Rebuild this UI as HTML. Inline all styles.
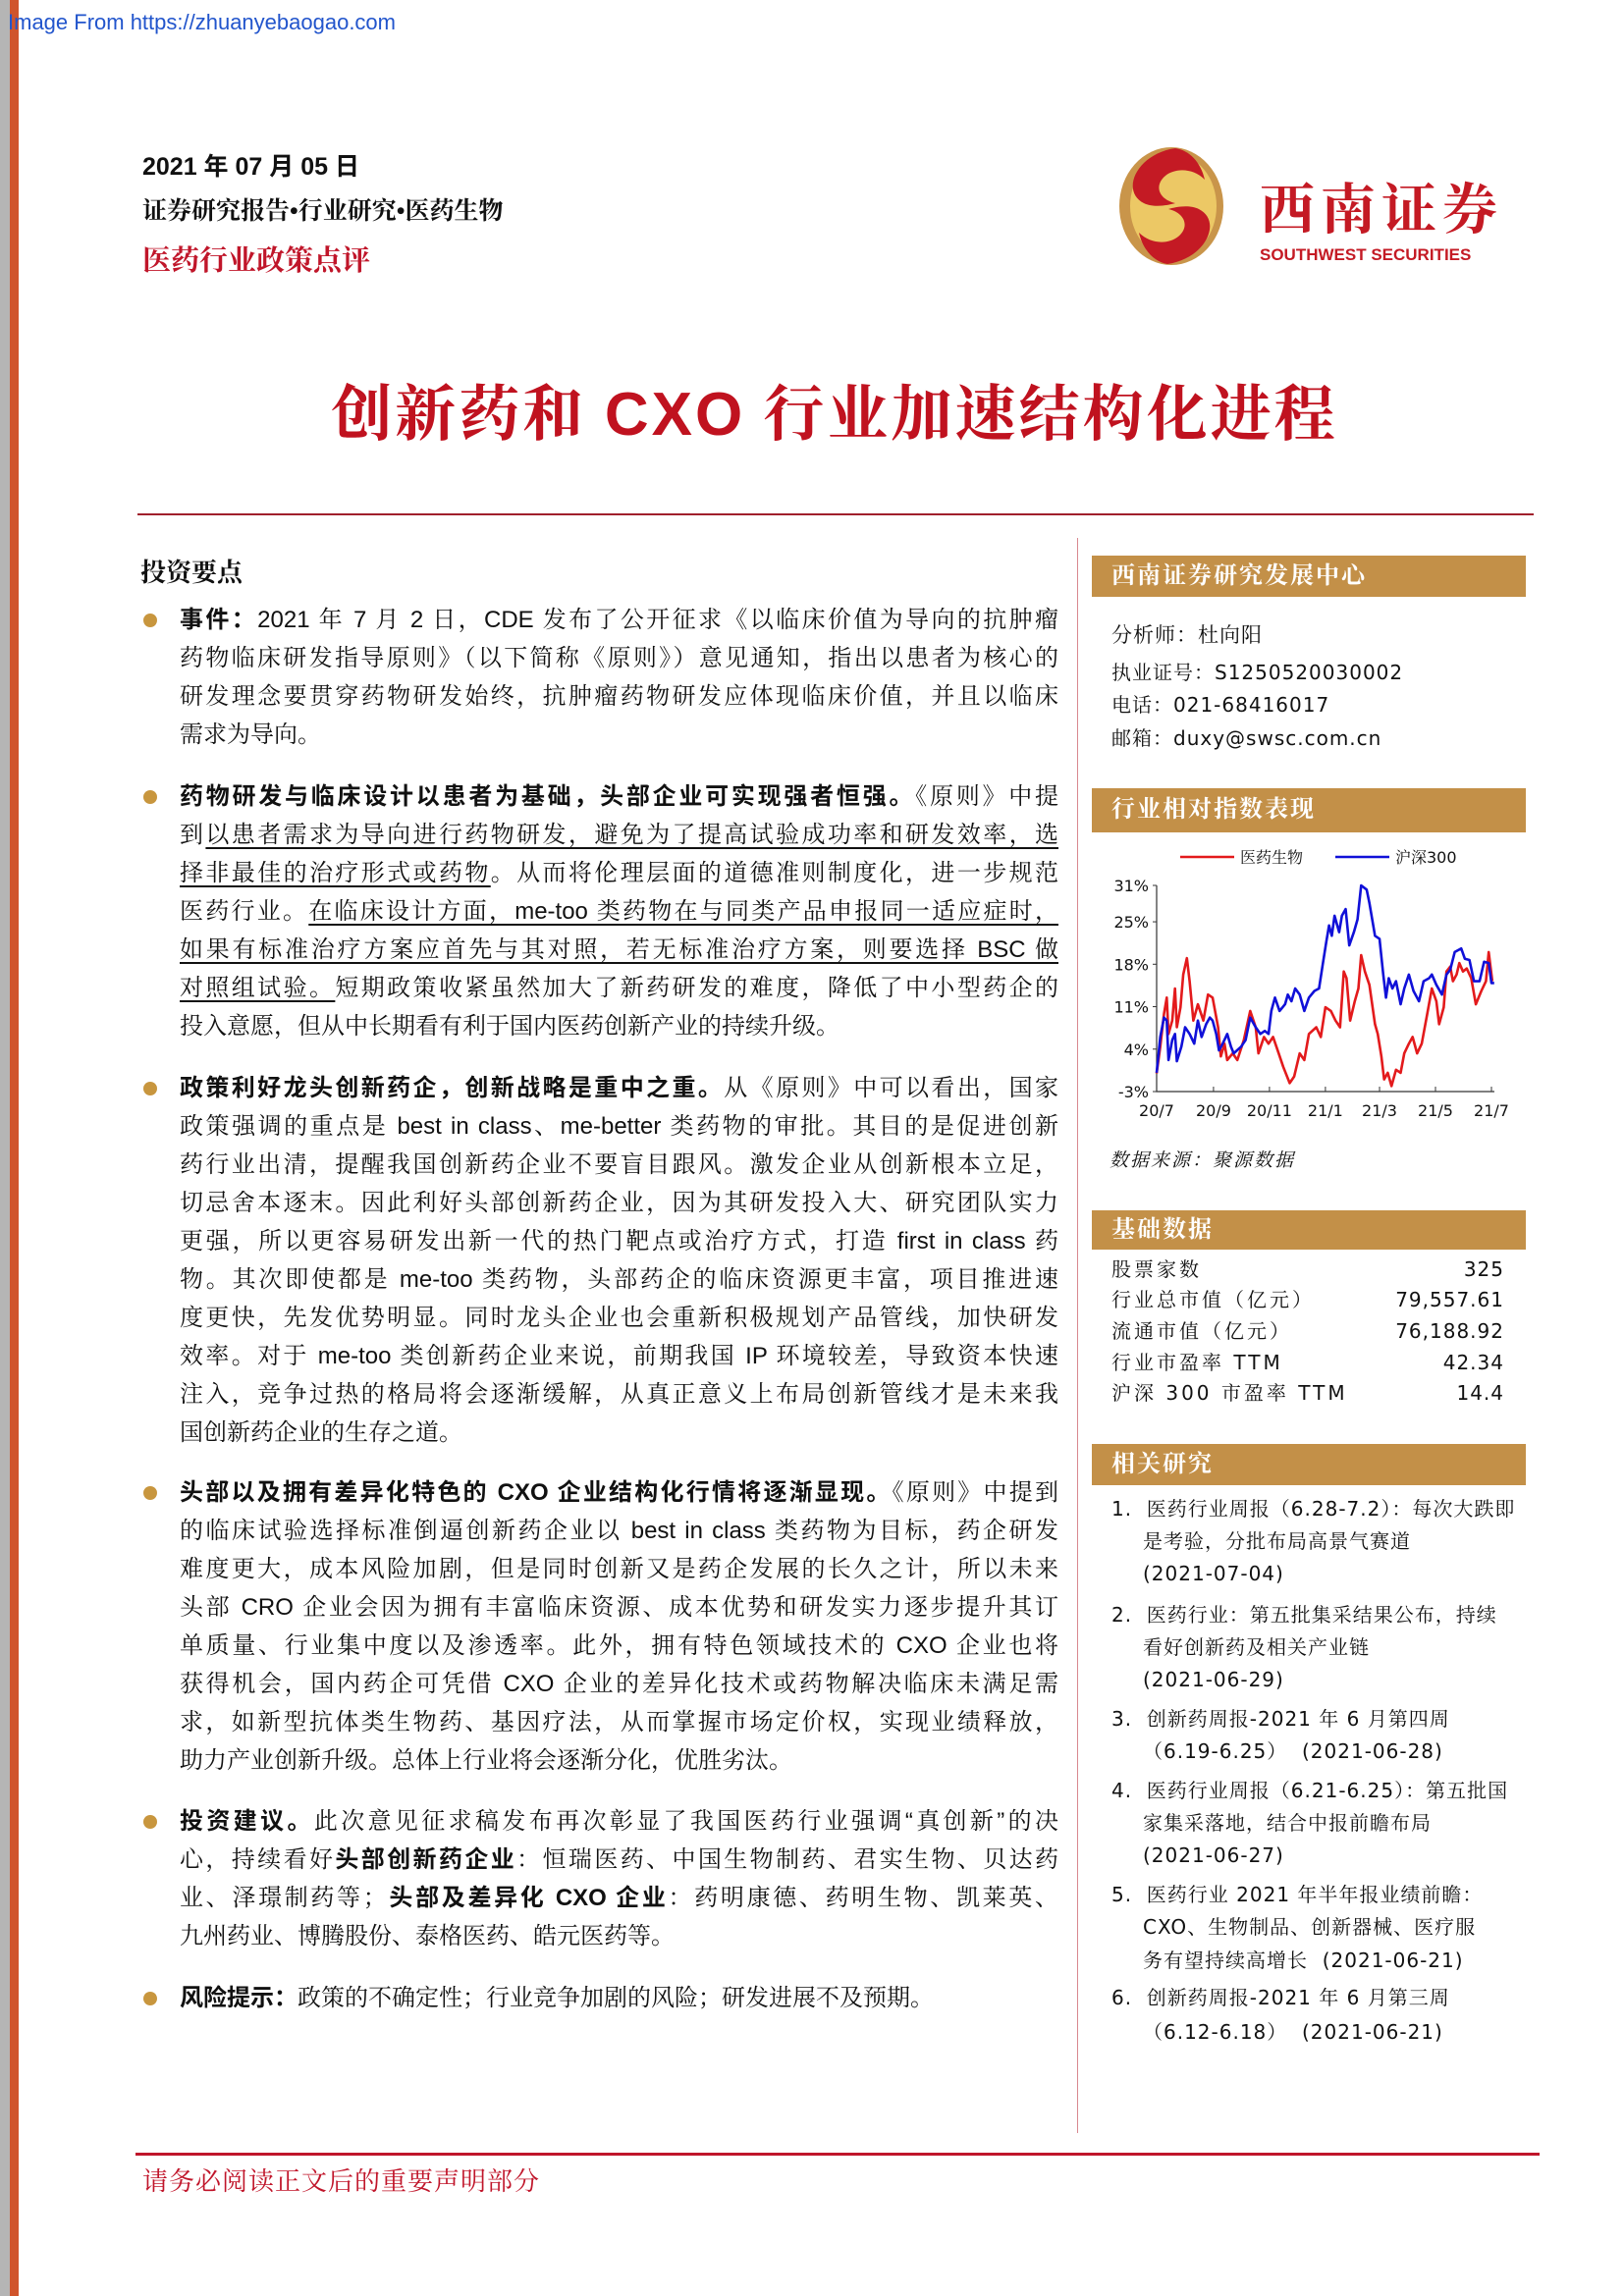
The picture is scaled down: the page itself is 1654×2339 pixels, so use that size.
<!DOCTYPE html>
<html><head><meta charset="utf-8">
<style>
*{margin:0;padding:0;box-sizing:border-box}
body{width:1654px;height:2339px;position:relative;background:#fff;overflow:hidden;font-family:"Liberation Serif","Noto Serif CJK SC",serif;color:#111}
.abs{position:absolute}
.para{position:absolute;left:183px;width:895px;font-size:24px;line-height:39px;font-family:"Liberation Sans","Noto Serif CJK SC",serif}
.para .ln{text-align:justify;text-align-last:justify;white-space:nowrap;height:39px}
.para .ln.last{text-align-last:left}
.para b{font-weight:700;font-family:"Liberation Sans","Noto Sans CJK SC",sans-serif}
.para u{text-decoration:underline;text-underline-offset:5px}
.dot{position:absolute;left:146px;width:14px;height:14px;border-radius:50%;background:#c8963e}
.hbar{position:absolute;left:1112px;width:442px;background:#c39048;color:#fff;font-weight:700;font-size:24px;padding-left:20px;letter-spacing:2px}
.rt{position:absolute;font-family:"DejaVu Sans","Noto Serif CJK SC",sans-serif;font-size:20px;letter-spacing:1px;white-space:nowrap;line-height:30px}
</style></head>
<body>
<div class="abs" style="left:0;top:0;width:10px;height:2339px;background:#b5b5b5"></div>
<div class="abs" style="left:10px;top:0;width:9px;height:2339px;background:#d0542c"></div>
<div class="abs" style="left:8px;top:10px;font-family:'Liberation Sans',sans-serif;font-size:22px;color:#2255cc">Image From https://zhuanyebaogao.com</div>

<div class="abs" style="left:145px;top:150px;font-size:25px;font-weight:700;font-family:'Liberation Sans','Noto Sans CJK SC',sans-serif">2021 年 07 月 05 日</div>
<div class="abs" style="left:145px;top:195px;font-size:25px;font-weight:700">证券研究报告•行业研究•医药生物</div>
<div class="abs" style="left:145px;top:243px;font-size:29px;font-weight:700;color:#c0162a">医药行业政策点评</div>

<svg class="abs" style="left:1135px;top:145px" width="420" height="130" viewBox="0 0 420 130">
 <ellipse cx="58" cy="65" rx="53" ry="60" fill="#c9954a"/>
 <ellipse cx="60" cy="65" rx="44" ry="53" fill="#ecc865"/>
 <path d="M62 6 C22 12 6 50 30 62 C40 67 55 64 62 62 C45 58 40 44 52 34 C62 26 80 26 92 38 C88 20 76 8 62 6Z" fill="#c41a24"/>
 <path d="M54 124 C94 118 110 80 86 68 C76 63 62 66 55 68 C72 72 77 86 65 96 C55 104 37 104 25 92 C29 110 41 122 54 124Z" fill="#c41a24"/>
 <text x="148" y="88" font-size="56" font-weight="700" fill="#c41a24" font-family="'Noto Serif CJK SC',serif" letter-spacing="6">西南证券</text>
 <text x="148" y="120" font-size="17" font-weight="700" fill="#c41a24" font-family="'Liberation Sans',sans-serif">SOUTHWEST SECURITIES</text>
</svg>

<div class="abs" style="left:0;width:1700px;top:372px;text-align:center;font-size:62px;color:#c0121f;font-weight:700;letter-spacing:3px">创新药和 <span style="font-family:'Liberation Sans',sans-serif">CXO</span> 行业加速结构化进程</div>
<div class="abs" style="left:140px;top:523px;width:1422px;height:2px;background:#a0202c"></div>
<div class="abs" style="left:1097px;top:548px;width:1px;height:1625px;background:#d88890"></div>

<div class="abs" style="left:143px;top:563px;font-size:26px;font-weight:700">投资要点</div>

<div class="dot" style="top:625px"></div>
<div class="para" style="top:612px">
<div class="ln"><b>事件：</b>2021 年 7 月 2 日，CDE 发布了公开征求《以临床价值为导向的抗肿瘤</div>
<div class="ln">药物临床研发指导原则》（以下简称《原则》）意见通知，指出以患者为核心的</div>
<div class="ln">研发理念要贯穿药物研发始终，抗肿瘤药物研发应体现临床价值，并且以临床</div>
<div class="ln last">需求为导向。</div></div>

<div class="dot" style="top:805px"></div>
<div class="para" style="top:792px">
<div class="ln"><b>药物研发与临床设计以患者为基础，头部企业可实现强者恒强。</b>《原则》中提</div>
<div class="ln">到<u>以患者需求为导向进行药物研发，避免为了提高试验成功率和研发效率，选</u></div>
<div class="ln"><u>择非最佳的治疗形式或药物</u>。从而将伦理层面的道德准则制度化，进一步规范</div>
<div class="ln">医药行业。<u>在临床设计方面，me-too 类药物在与同类产品申报同一适应症时，</u></div>
<div class="ln"><u>如果有标准治疗方案应首先与其对照，若无标准治疗方案，则要选择 BSC 做</u></div>
<div class="ln"><u>对照组试验。</u>短期政策收紧虽然加大了新药研发的难度，降低了中小型药企的</div>
<div class="ln last">投入意愿，但从中长期看有利于国内医药创新产业的持续升级。</div></div>

<div class="dot" style="top:1102px"></div>
<div class="para" style="top:1089px">
<div class="ln"><b>政策利好龙头创新药企，创新战略是重中之重。</b>从《原则》中可以看出，国家</div>
<div class="ln">政策强调的重点是 best in class、me-better 类药物的审批。其目的是促进创新</div>
<div class="ln">药行业出清，提醒我国创新药企业不要盲目跟风。激发企业从创新根本立足，</div>
<div class="ln">切忌舍本逐末。因此利好头部创新药企业，因为其研发投入大、研究团队实力</div>
<div class="ln">更强，所以更容易研发出新一代的热门靶点或治疗方式，打造 first in class 药</div>
<div class="ln">物。其次即使都是 me-too 类药物，头部药企的临床资源更丰富，项目推进速</div>
<div class="ln">度更快，先发优势明显。同时龙头企业也会重新积极规划产品管线，加快研发</div>
<div class="ln">效率。对于 me-too 类创新药企业来说，前期我国 IP 环境较差，导致资本快速</div>
<div class="ln">注入，竞争过热的格局将会逐渐缓解，从真正意义上布局创新管线才是未来我</div>
<div class="ln last">国创新药企业的生存之道。</div></div>

<div class="dot" style="top:1514px"></div>
<div class="para" style="top:1501px">
<div class="ln"><b>头部以及拥有差异化特色的 CXO 企业结构化行情将逐渐显现。</b>《原则》中提到</div>
<div class="ln">的临床试验选择标准倒逼创新药企业以 best in class 类药物为目标，药企研发</div>
<div class="ln">难度更大，成本风险加剧，但是同时创新又是药企发展的长久之计，所以未来</div>
<div class="ln">头部 CRO 企业会因为拥有丰富临床资源、成本优势和研发实力逐步提升其订</div>
<div class="ln">单质量、行业集中度以及渗透率。此外，拥有特色领域技术的 CXO 企业也将</div>
<div class="ln">获得机会，国内药企可凭借 CXO 企业的差异化技术或药物解决临床未满足需</div>
<div class="ln">求，如新型抗体类生物药、基因疗法，从而掌握市场定价权，实现业绩释放，</div>
<div class="ln last">助力产业创新升级。总体上行业将会逐渐分化，优胜劣汰。</div></div>

<div class="dot" style="top:1849px"></div>
<div class="para" style="top:1836px">
<div class="ln"><b>投资建议。</b>此次意见征求稿发布再次彰显了我国医药行业强调“真创新”的决</div>
<div class="ln">心，持续看好<b>头部创新药企业</b>：恒瑞医药、中国生物制药、君实生物、贝达药</div>
<div class="ln">业、泽璟制药等；<b>头部及差异化 CXO 企业</b>：药明康德、药明生物、凯莱英、</div>
<div class="ln last">九州药业、博腾股份、泰格医药、皓元医药等。</div></div>

<div class="dot" style="top:2029px"></div>
<div class="para" style="top:2016px">
<div class="ln last"><b>风险提示：</b>政策的不确定性；行业竞争加剧的风险；研发进展不及预期。</div></div>

<!-- right column -->
<div class="hbar" style="top:566px;height:42px;line-height:42px">西南证券研究发展中心</div>
<div class="rt" style="left:1132px;top:632px;font-size:21px">分析师：杜向阳</div>
<div class="rt" style="left:1132px;top:670px">执业证号：S1250520030002</div>
<div class="rt" style="left:1132px;top:703px">电话：021-68416017</div>
<div class="rt" style="left:1132px;top:737px">邮箱：duxy@swsc.com.cn</div>

<div class="hbar" style="top:803px;height:45px;line-height:45px">行业相对指数表现</div>
<svg id="chart" class="abs" style="left:1110px;top:850px" width="450" height="310"></svg>
<div class="abs" style="left:1130px;top:1167px;font-size:19px;font-style:italic;letter-spacing:2px">数据来源：聚源数据</div>

<div class="hbar" style="top:1233px;height:40px;line-height:40px">基础数据</div>
<div>
<div class="rt" style="left:1132px;top:1278px;letter-spacing:3px">股票家数</div>
<div class="rt" style="right:122px;top:1278px">325</div>
<div class="rt" style="left:1132px;top:1309px;letter-spacing:3px">行业总市值（亿元）</div>
<div class="rt" style="right:122px;top:1309px">79,557.61</div>
<div class="rt" style="left:1132px;top:1341px;letter-spacing:3px">流通市值（亿元）</div>
<div class="rt" style="right:122px;top:1341px">76,188.92</div>
<div class="rt" style="left:1132px;top:1373px;letter-spacing:3px">行业市盈率 TTM</div>
<div class="rt" style="right:122px;top:1373px">42.34</div>
<div class="rt" style="left:1132px;top:1404px;letter-spacing:3px">沪深 300 市盈率 TTM</div>
<div class="rt" style="right:122px;top:1404px">14.4</div>
</div>

<div class="hbar" style="top:1471px;height:42px;line-height:42px">相关研究</div>
<div>
<div class="rt" style="left:1132px;top:1522px">1.&nbsp; 医药行业周报（6.28-7.2）：每次大跌即</div>
<div class="rt" style="left:1164px;top:1555px">是考验，分批布局高景气赛道</div>
<div class="rt" style="left:1164px;top:1588px">(2021-07-04)</div>
<div class="rt" style="left:1132px;top:1630px">2.&nbsp; 医药行业：第五批集采结果公布，持续</div>
<div class="rt" style="left:1164px;top:1663px">看好创新药及相关产业链</div>
<div class="rt" style="left:1164px;top:1696px">(2021-06-29)</div>
<div class="rt" style="left:1132px;top:1736px">3.&nbsp; 创新药周报-2021 年 6 月第四周</div>
<div class="rt" style="left:1164px;top:1769px">（6.19-6.25）&nbsp;&nbsp;(2021-06-28)</div>
<div class="rt" style="left:1132px;top:1809px">4.&nbsp; 医药行业周报（6.21-6.25）：第五批国</div>
<div class="rt" style="left:1164px;top:1842px">家集采落地，结合中报前瞻布局</div>
<div class="rt" style="left:1164px;top:1875px">(2021-06-27)</div>
<div class="rt" style="left:1132px;top:1915px">5.&nbsp; 医药行业 2021 年半年报业绩前瞻：</div>
<div class="rt" style="left:1164px;top:1948px">CXO、生物制品、创新器械、医疗服</div>
<div class="rt" style="left:1164px;top:1982px">务有望持续高增长&nbsp;&nbsp;(2021-06-21)</div>
<div class="rt" style="left:1132px;top:2020px">6.&nbsp; 创新药周报-2021 年 6 月第三周</div>
<div class="rt" style="left:1164px;top:2055px">（6.12-6.18）&nbsp;&nbsp;(2021-06-21)</div>
</div>

<div class="abs" style="left:138px;top:2193px;width:1430px;height:3px;background:#c0152a"></div>
<div class="abs" style="left:145px;top:2202px;font-size:26px;color:#c0152a;letter-spacing:1px">请务必阅读正文后的重要声明部分</div>

<script>
const tickDays=[0,62,123,184,243,304,365];
const tickLabels=["20/7","20/9","20/11","21/1","21/3","21/5","21/7"];
const yTicks=[31,25,18,11,4,-3];
const seriesNames=["医药生物","沪深300"];
const redDays=[0,4,8,11,13,17,20,22,26,29,33,36,40,45,51,56,61,67,70,74,77,83,88,95,102,108,111,117,122,127,133,138,145,150,156,161,166,174,179,184,190,195,200,204,207,211,216,220,223,227,232,238,241,245,248,252,256,261,266,270,275,279,284,289,295,300,305,308,313,316,320,323,327,330,334,338,343,348,354,359,362,366];
const redVals=[0,4.4,9.8,12.5,6.5,8.7,14,7.6,10.9,16.3,19,15.2,8.7,11.4,8.7,13,12.5,7.6,2.8,4.9,2.2,3.3,2.2,5.5,10.3,7.6,3.3,6,4.9,6,3.3,1.1,-1.6,-0.5,3.3,2.2,6.5,7.6,6,10.9,10.3,8.7,7.6,16.8,15.7,8.7,11.9,14,19.5,16.8,14.6,8.1,6.5,2.8,-1,0.1,-2.1,0.6,0.1,3.3,4.9,6,3.3,4.9,9.8,14,11.9,8.1,10.9,16.8,17.6,15.2,16.3,18.2,16.8,17.3,15.7,11.4,13.6,15.2,20,15.2];
const blueDays=[0,4,8,11,13,17,20,22,27,31,36,41,45,49,54,58,61,65,68,72,77,81,84,92,97,102,108,113,118,122,125,129,134,140,143,147,151,156,161,166,172,177,181,185,188,191,194,199,202,206,210,215,219,223,229,232,238,243,247,250,253,257,261,266,270,275,280,286,291,297,300,305,311,316,320,325,332,336,341,346,352,357,362,365,368];
const blueVals=[0.1,6,9.2,8.7,2.2,5.5,6.5,2,4.4,7.6,6.5,4.9,8.7,6,8.1,9.2,8.7,6.5,3.8,4.9,6.5,4.4,3.3,4.4,5.5,9.2,7.6,6.5,7,6.5,10.3,12.5,10.3,11.4,13,11.9,14,13,10.3,12.5,13.6,14,17.9,21.7,24.4,22.7,26,23.3,26,27.1,21.1,23.3,25.4,31,30.3,28.1,22.7,22.2,16.3,12.5,15.7,14,15.2,11.4,14,16.3,13.6,11.9,15.2,15.7,16.3,14.6,13,16.3,17.1,20,20.6,18.9,18.7,15.2,15.2,18.4,18.2,14.9,14.9];
(function(){
const svg=document.getElementById('chart');
const NS='http://www.w3.org/2000/svg';
const X0=68,X1=409,Y0=262,Y1=52;
const xs=d=>X0+(d/365)*(X1-X0);
const ys=v=>Y0-(v-(-3))/(31-(-3))*(Y0-Y1);
function mk(t,a,p){const e=document.createElementNS(NS,t);for(const k in a)e.setAttribute(k,a[k]);(p||svg).appendChild(e);return e;}
const ax=mk('path',{d:`M${X0} ${Y1}V${Y0}H${X1+3}`,stroke:'#333','stroke-width':1.2,fill:'none'});


yTicks.forEach(v=>{
 mk('line',{x1:X0-4,x2:X0,y1:ys(v),y2:ys(v),stroke:'#333'});
 const t=mk('text',{x:X0-8,y:ys(v)+6,'text-anchor':'end','font-size':16,'font-family':'DejaVu Sans,sans-serif',fill:'#111'});
 t.textContent=v+'%';
 
 
});
tickDays.forEach((d,i)=>{
 mk('line',{x1:xs(d),x2:xs(d),y1:Y0,y2:Y0-5,stroke:'#333'});
 const t=mk('text',{x:xs(d),y:Y0+25,'text-anchor':'middle','font-size':16,'font-family':'DejaVu Sans,sans-serif',fill:'#111'});
 t.textContent=tickLabels[i];
 
 
});
function line(days,vals,col,name){
 const p=mk('polyline',{points:days.map((d,i)=>xs(d).toFixed(1)+','+ys(vals[i]).toFixed(1)).join(' '),fill:'none',stroke:col,'stroke-width':2.6,'stroke-linejoin':'round'});
 
 
}
line(redDays,redVals,'#e31a1c','series-pharma-bio');
line(blueDays,blueVals,'#1010d8','series-hs300');
const legCols=['#e31a1c','#1010d8'];const legX=[92,250];
seriesNames.forEach((n,i)=>{
 mk('line',{x1:legX[i],x2:legX[i]+55,y1:23,y2:23,stroke:legCols[i],'stroke-width':2.6});
 const t=mk('text',{x:legX[i]+61,y:29,'font-size':16,'font-family':'DejaVu Sans,Noto Serif CJK SC,sans-serif',fill:'#111'});
 t.textContent=n;
 
 
});
})();
</script>
</body></html>
